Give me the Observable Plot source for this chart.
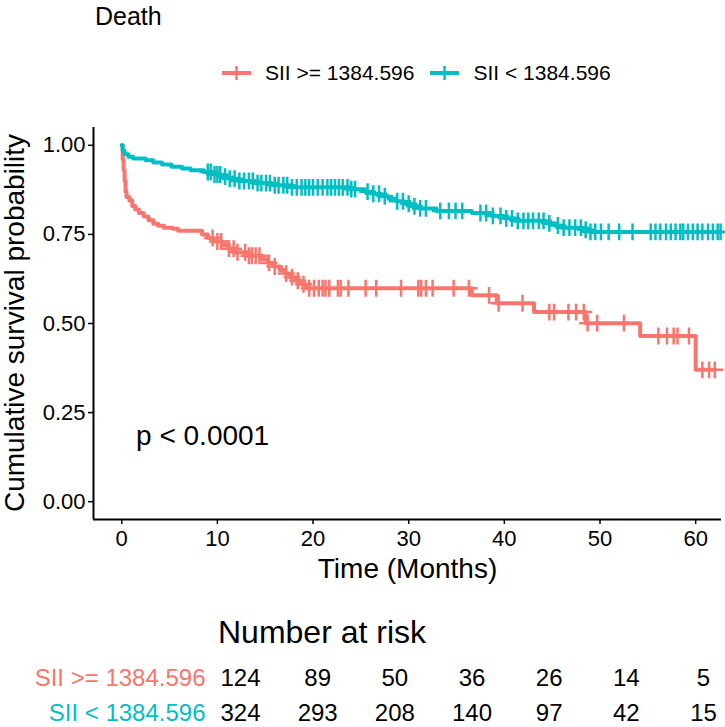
<!DOCTYPE html>
<html>
<head>
<meta charset="utf-8">
<script src="https://cdn.jsdelivr.net/npm/d3@7"></script>
<script src="https://cdn.jsdelivr.net/npm/@observablehq/plot@0.6"></script>
<style>
  body { margin: 0; background: #fff; }
  #chart { position: relative; width: 725px; height: 727px; font-family: "Liberation Sans", Arial, sans-serif; color: #000; overflow: hidden; }
  #chart > svg { position: absolute; left: 0; overflow: visible; }
  .title { position: absolute; left: 95px; top: 0px; font-size: 25px; line-height: 32px; }
  .ytitle { position: absolute; left: 15px; top: 323px; font-size: 28px; line-height: 32px; white-space: nowrap; transform: translate(-50%, -50%) rotate(-90deg); }
  .legend { position: absolute; left: 222px; top: 58px; height: 30px; display: flex; align-items: center; font-size: 21px; white-space: nowrap; }
  .legend .item { display: flex; align-items: center; }
  .legend svg { margin-right: 14px; }
  .risk-title { position: absolute; left: 218px; top: 612px; font-size: 32px; line-height: 40px; }
</style>
</head>
<body>
<div id="chart"></div>
<script>
// Strata
const groups = ["SII >= 1384.596", "SII < 1384.596"];
const colors = ["#F8766D", "#00BFC4"];

// Kaplan-Meier steps, high SII group: event times (months) and survival after each step
const highTimes = [0, 0.1, 0.2, 0.3, 0.4, 0.5, 0.8, 1.1, 1.4, 1.8, 2.3, 2.8, 3.3, 3.8, 4.4, 5.3, 5.9,
  8.4, 9.0, 9.6, 10.5, 11.2, 11.8, 13.0, 14.6, 15.3, 15.9, 16.5, 17.1, 17.6, 18.2, 18.7, 19.3,
  36.6, 39.2, 43.1, 48.5, 54.2, 60.0];
const highSurv = [1.0, 0.96, 0.93, 0.90, 0.87, 0.855, 0.845, 0.83, 0.82, 0.81, 0.80, 0.79, 0.78, 0.774, 0.769, 0.766, 0.76,
  0.75, 0.74, 0.73, 0.72, 0.71, 0.70, 0.69, 0.68, 0.67, 0.66, 0.65, 0.64, 0.63, 0.62, 0.61, 0.599,
  0.579, 0.557, 0.532, 0.501, 0.465, 0.370];
const highEnd = 62.0;
const highCensor = [9.5, 10.0, 10.4, 11.2, 11.7, 12.1, 12.9, 13.3, 13.6, 14.0, 14.4, 15.4, 16.0, 17.2, 17.8,
  18.4, 19.0, 19.6, 20.1, 20.6, 21.0, 21.3, 21.7, 22.6, 22.9, 23.7, 25.5, 26.6, 29.2, 31.0, 31.3, 31.8,
  32.5, 34.7, 36.3, 38.4, 39.4, 41.9, 44.7, 45.2, 46.7, 47.5, 48.3, 48.7, 49.7, 52.5, 56.1, 57.0, 57.7,
  58.1, 59.3, 60.7, 61.4, 62.0];

// Kaplan-Meier steps, low SII group
const lowTimes = [0, 0.1, 0.3, 0.7, 1.2, 2.5, 3.3, 4.2, 5.2, 6.3, 7.2, 8.6, 9.6, 10.4, 11.2, 12.2, 13.9,
  15.6, 17.6, 23.8, 25.4, 26.2, 27.0, 27.9, 28.7, 29.5, 30.3, 31.1, 32.9, 36.6, 38.7, 40.0, 41.1,
  44.3, 45.3, 46.0, 48.2, 49.0];
const lowSurv = [1.0, 0.985, 0.975, 0.968, 0.963, 0.958, 0.952, 0.946, 0.940, 0.935, 0.930, 0.925, 0.918,
  0.912, 0.906, 0.900, 0.894, 0.888, 0.882, 0.877, 0.870, 0.864, 0.857, 0.850, 0.843, 0.836, 0.829,
  0.823, 0.816, 0.810, 0.802, 0.795, 0.788, 0.781, 0.775, 0.769, 0.763, 0.757];
const lowEnd = 62.6;
const lowCensor = [9.0, 9.3, 9.7, 10.0, 10.3, 10.8, 11.3, 11.8, 12.3, 12.8, 13.3, 13.7, 14.2, 14.6, 15.1,
  15.5, 16.0, 16.4, 16.9, 17.3, 17.8, 18.3, 18.8, 19.2, 19.6, 20.0, 20.5, 21.0, 21.5, 21.9, 22.3, 22.7,
  23.1, 23.6, 24.0, 24.4, 25.7, 26.3, 26.9, 27.5, 28.8, 29.4, 30.0, 30.6, 31.2, 31.8, 33.3, 34.2, 34.9,
  35.6, 37.5, 38.1, 38.8, 39.6, 40.2, 40.8, 41.4, 42.0, 42.5, 43.0, 43.6, 44.1, 44.7, 45.6, 46.2, 46.8,
  47.4, 48.0, 48.5, 49.0, 49.5, 50.1, 50.9, 52.0, 53.4, 55.3, 55.8, 56.3, 56.9, 57.4, 57.9, 58.4, 58.7,
  59.2, 59.7, 60.2, 60.7, 61.3, 61.8, 62.3, 62.6];

// Number at risk
const riskTimes = [0, 10, 20, 30, 40, 50, 60];
const riskHigh = [124, 89, 50, 36, 26, 14, 5];
const riskLow = [324, 293, 208, 140, 97, 42, 15];

const xTicks = [0, 10, 20, 30, 40, 50, 60];
const yTicks = [0, 0.25, 0.5, 0.75, 1];
const xDomain = [-2.95, 62.7];
const yDomain = [-0.05, 1.05];
const pLabel = "p < 0.0001";

// Build step paths and censor marks
function stepRows(group, times, surv, end) {
  const rows = times.map((t, i) => ({group, time: t, surv: surv[i]}));
  rows.push({group, time: end, surv: surv[surv.length - 1]});
  return rows;
}
function censorRows(group, times, surv, censor) {
  return censor.map(c => {
    let s = surv[0];
    for (let i = 0; i < times.length; i++) if (times[i] <= c) s = surv[i];
    return {group, time: c, surv: s};
  });
}
const curves = [
  ...stepRows(groups[0], highTimes, highSurv, highEnd),
  ...stepRows(groups[1], lowTimes, lowSurv, lowEnd)
];
const censored = [
  ...censorRows(groups[0], highTimes, highSurv, highCensor),
  ...censorRows(groups[1], lowTimes, lowSurv, lowCensor)
];

const color = {domain: groups, range: colors};
const chart = document.getElementById("chart");

// Title
const title = document.createElement("div");
title.className = "title";
title.textContent = "Death";
chart.appendChild(title);

// Survival plot
const main = Plot.plot({
  width: 725,
  height: 600,
  marginLeft: 93,
  marginRight: 4,
  marginTop: 127,
  marginBottom: 81,
  style: {fontFamily: "Liberation Sans, Arial, sans-serif", background: "transparent", color: "#000"},
  x: {domain: xDomain},
  y: {domain: yDomain},
  color,
  marks: [
    Plot.ruleX([xDomain[0]], {stroke: "#000", strokeWidth: 2}),
    Plot.ruleY([yDomain[0]], {stroke: "#000", strokeWidth: 2}),
    Plot.axisX({ticks: xTicks, tickSize: 5, tickPadding: 6, fontSize: 22, label: null, stroke: "#000", strokeWidth: 1.5}),
    Plot.axisY({ticks: yTicks, tickSize: 5, tickPadding: 3, fontSize: 22, label: null, tickFormat: d3.format(".2f"), stroke: "#000", strokeWidth: 1.5}),
    Plot.line(curves, {x: "time", y: "surv", z: "group", stroke: "group", strokeWidth: 4, curve: "step-after"}),
    Plot.dot(censored, {x: "time", y: "surv", stroke: "group", symbol: "plus", r: 5.5, strokeWidth: 2.5}),
    Plot.text([pLabel], {x: 1.5, y: 0.185, text: d => d, textAnchor: "start", fontSize: 28, fill: "#000"}),
    Plot.text(["Time (Months)"], {frameAnchor: "bottom", dy: 58, fontSize: 28, fill: "#000"})
  ]
});
main.style.top = "0px";
chart.appendChild(main);

// Y axis title
const ytitle = document.createElement("div");
ytitle.className = "ytitle";
ytitle.textContent = "Cumulative survival probability";
chart.appendChild(ytitle);

// Legend
const legend = document.createElement("div");
legend.className = "legend";
groups.forEach((g, i) => {
  const item = document.createElement("div");
  item.className = "item";
  item.style.marginRight = i === 0 ? "16px" : "0";
  const sw = d3.create("svg").attr("width", 29).attr("height", 20);
  sw.append("line").attr("x1", 0).attr("x2", 29).attr("y1", 10).attr("y2", 10)
    .attr("stroke", colors[i]).attr("stroke-width", 4);
  sw.append("line").attr("x1", 14.5).attr("x2", 14.5).attr("y1", 3).attr("y2", 17)
    .attr("stroke", colors[i]).attr("stroke-width", 2.5);
  item.appendChild(sw.node());
  const lab = document.createElement("span");
  lab.textContent = g;
  item.appendChild(lab);
  legend.appendChild(item);
});
chart.appendChild(legend);

// Number at risk table
const riskTitle = document.createElement("div");
riskTitle.className = "risk-title";
riskTitle.textContent = "Number at risk";
chart.appendChild(riskTitle);

const riskRows = [
  ...riskTimes.map((t, i) => ({group: groups[0], time: t, n: riskHigh[i]})),
  ...riskTimes.map((t, i) => ({group: groups[1], time: t, n: riskLow[i]}))
];
const table = Plot.plot({
  width: 725,
  height: 77,
  marginLeft: 240,
  marginRight: 22,
  marginTop: 28,
  marginBottom: 14,
  style: {fontFamily: "Liberation Sans, Arial, sans-serif", background: "transparent", color: "#000"},
  x: {domain: [riskTimes[0], riskTimes[riskTimes.length - 1]], axis: null},
  y: {type: "point", domain: groups, axis: null, padding: 0},
  color,
  marks: [
    Plot.text(riskRows, {x: "time", y: "group", text: d => String(d.n), fontSize: 24, fill: "#000"}),
    Plot.text(groups, {y: d => d, text: d => d, frameAnchor: "left", dx: -35, textAnchor: "end", fontSize: 24, fill: d => d})
  ]
});
table.style.top = "650px";
chart.appendChild(table);
</script>
</body>
</html>
